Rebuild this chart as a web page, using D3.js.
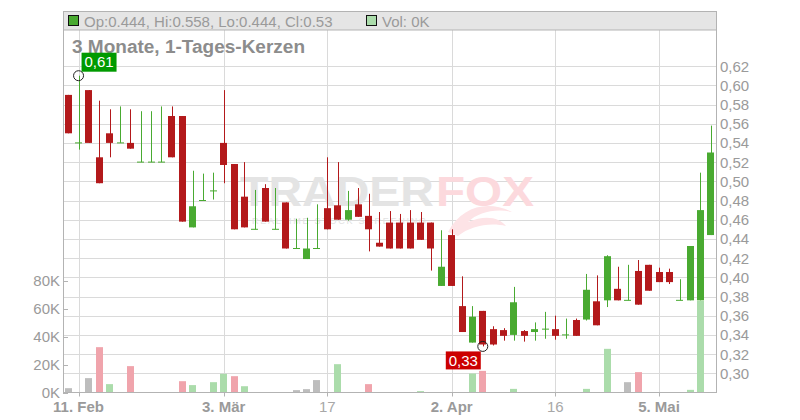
<!DOCTYPE html>
<html>
<head>
<meta charset="utf-8">
<script src="https://cdn.jsdelivr.net/npm/d3@7"></script>
<style>
html,body{margin:0;padding:0;background:#fff;}
svg{display:block;font-family:"Liberation Sans",Arial,sans-serif;}
</style>
</head>
<body>
<svg id="chart" width="800" height="420"></svg>
<script>
// ---- data (3 months, daily candles) ----
const dates = ["2025-02-10","2025-02-11","2025-02-12","2025-02-13","2025-02-14","2025-02-17","2025-02-18","2025-02-19","2025-02-20","2025-02-21",
"2025-02-24","2025-02-25","2025-02-26","2025-02-27","2025-02-28","2025-03-03","2025-03-04","2025-03-05","2025-03-06","2025-03-07",
"2025-03-10","2025-03-11","2025-03-12","2025-03-13","2025-03-14","2025-03-17","2025-03-18","2025-03-19","2025-03-20","2025-03-21",
"2025-03-24","2025-03-25","2025-03-26","2025-03-27","2025-03-28","2025-03-31","2025-04-01","2025-04-02","2025-04-03","2025-04-04",
"2025-04-07","2025-04-08","2025-04-09","2025-04-10","2025-04-11","2025-04-14","2025-04-15","2025-04-16","2025-04-17","2025-04-22",
"2025-04-23","2025-04-24","2025-04-25","2025-04-28","2025-04-29","2025-04-30","2025-05-02","2025-05-05","2025-05-06","2025-05-07",
"2025-05-08","2025-05-09","2025-05-12"];
const openV  = [0.590,0.540,0.595,0.525,0.550,0.540,0.540,0.520,0.520,0.520,
0.568,0.568,0.452,0.480,0.490,0.540,0.518,0.484,0.450,0.493,
0.450,0.478,0.430,0.419,0.430,0.472,0.475,0.460,0.476,0.464,
0.436,0.457,0.457,0.457,0.457,0.457,0.391,0.444,0.370,0.332,
0.365,0.346,0.345,0.340,0.344,0.343,0.346,0.346,0.340,0.3555,
0.356,0.375,0.376,0.388,0.376,0.4066,0.413,0.4055,0.4055,0.376,
0.376,0.376,0.444];
const highV  = [0.590,0.610,0.595,0.584,0.575,0.578,0.575,0.573,0.573,0.578,
0.578,0.568,0.511,0.508,0.509,0.595,0.518,0.520,0.491,0.497,
0.493,0.478,0.461,0.462,0.476,0.525,0.520,0.490,0.493,0.487,
0.468,0.469,0.466,0.470,0.468,0.457,0.449,0.450,0.401,0.370,
0.365,0.349,0.347,0.390,0.345,0.353,0.364,0.360,0.357,0.357,
0.4035,0.402,0.423,0.411,0.413,0.418,0.413,0.410,0.409,0.398,
0.4326,0.509,0.558];
const lowV   = [0.550,0.533,0.540,0.498,0.525,0.540,0.534,0.520,0.520,0.520,
0.525,0.458,0.452,0.480,0.481,0.498,0.450,0.452,0.450,0.458,
0.450,0.430,0.430,0.419,0.430,0.450,0.460,0.459,0.463,0.427,
0.432,0.430,0.430,0.430,0.439,0.407,0.391,0.391,0.343,0.332,
0.328,0.329,0.334,0.334,0.333,0.334,0.336,0.335,0.336,0.339,
0.355,0.350,0.369,0.376,0.376,0.3715,0.386,0.395,0.393,0.376,
0.376,0.376,0.444];
const closeV = [0.550,0.540,0.540,0.498,0.540,0.540,0.534,0.520,0.520,0.520,
0.525,0.458,0.474,0.480,0.490,0.517,0.450,0.452,0.450,0.458,
0.450,0.430,0.430,0.430,0.430,0.450,0.460,0.470,0.463,0.450,
0.432,0.430,0.430,0.430,0.439,0.430,0.411,0.391,0.343,0.359,
0.330,0.330,0.339,0.374,0.339,0.346,0.346,0.339,0.340,0.339,
0.387,0.350,0.422,0.376,0.376,0.3715,0.386,0.395,0.395,0.376,
0.4326,0.470,0.530];
const volumeV = [3100,0,10300,32500,6000,0,18900,0,0,0,
0,8100,5300,0,7400,13400,11700,4500,0,0,
0,0,1700,2400,8900,0,20300,0,0,6000,
0,0,0,0,1000,0,0,0,0,13600,
15500,0,0,2600,0,0,0,0,0,0,
2600,0,31300,0,7400,14600,0,0,0,0,
1900,65700,0];
const xTickDates  = ["2025-02-11","2025-03-03","2025-03-17","2025-04-02","2025-04-16","2025-05-05"];
const xTickLabels = ["11. Feb","3. Mär","17","2. Apr","16","5. Mai"];
const xTickBold   = [true,true,false,true,false,true];
const priceTicks  = [0.30,0.32,0.34,0.36,0.38,0.40,0.42,0.44,0.46,0.48,0.50,0.52,0.54,0.56,0.58,0.60,0.62];
const volTicks    = [0,20000,40000,60000,80000];
const titleText   = "3 Monate, 1-Tages-Kerzen";

// ---- layout ----
const L = 63, R = 716, TOP = 11, BOT = 392.5;
const C_RED = "#b3191b", C_GREEN = "#49aa31";
const V_RED = "#f0a4ac", V_GREEN = "#abdcab", V_GRAY = "#bdbdbd";
const GRID = "#dadada", AXIS = "#b3b3b3", TXT = "#9a9a9a";

const data = dates.map((d,i)=>({d, o:openV[i], h:highV[i], l:lowV[i], c:closeV[i], v:volumeV[i],
  pc: i>0 ? closeV[i-1] : null}));

const svg = d3.select("#chart");
const x = d3.scaleBand().domain(dates).range([L,R]).paddingInner(0.33).paddingOuter(0.165);
const bw = x.bandwidth();
const cx = d => x(d) + bw/2;
const y = d3.scaleLinear().domain([0.28,0.62]).range([BOT,66.1]);
const yv = d3.scaleLinear().domain([0,80000]).range([BOT,280.9]);

// gridlines
const g = svg.append("g");
g.selectAll("line.h").data(priceTicks).join("line")
  .attr("x1",L).attr("x2",R).attr("y1",d=>Math.round(y(d))+0.5).attr("y2",d=>Math.round(y(d))+0.5)
  .attr("stroke",GRID).attr("stroke-width",1);
g.selectAll("line.v").data(xTickDates).join("line")
  .attr("x1",d=>Math.round(cx(d))+0.5).attr("x2",d=>Math.round(cx(d))+0.5)
  .attr("y1",TOP).attr("y2",BOT).attr("stroke",GRID).attr("stroke-width",1);

// watermark
const wm = svg.append("g").attr("pointer-events","none");
wm.append("text").attr("x",240).attr("y",206).attr("font-size",42).attr("font-weight","bold")
  .attr("textLength",194).attr("lengthAdjust","spacingAndGlyphs").attr("fill","#e4e4e4").text("TRADER");
wm.append("text").attr("x",436).attr("y",206).attr("font-size",42).attr("font-weight","bold")
  .attr("textLength",98).attr("lengthAdjust","spacingAndGlyphs").attr("fill","#fcd9dd").text("FOX");
wm.append("path").attr("d","M448,232 C462,206 488,200 512,212 C496,208 478,212 468,222 C486,214 500,218 506,226 C490,222 470,226 458,236 Z")
  .attr("fill","#fde3e6");
wm.append("text").attr("x",252).attr("y",224).attr("font-size",9).attr("letter-spacing",4)
  .attr("textLength",178).attr("fill","#e2e2e2").text("REALTIME STOCK SCREENING");

// volume bars
const volColor = d => d.pc===null ? V_GRAY : (d.c>d.pc ? V_GREEN : (d.c<d.pc ? V_RED : V_GRAY));
svg.append("g").selectAll("rect").data(data.filter(d=>d.v>0)).join("rect")
  .attr("x",d=>Math.round(x(d.d))).attr("width",Math.round(bw))
  .attr("y",d=>yv(d.v)).attr("height",d=>BOT-yv(d.v)).attr("fill",volColor);

// candles
const cg = svg.append("g");
const col = d => d.c>=d.o ? C_GREEN : C_RED;
cg.selectAll("line.w").data(data).join("line")
  .attr("x1",d=>Math.round(cx(d.d))+0.5).attr("x2",d=>Math.round(cx(d.d))+0.5)
  .attr("y1",d=>y(d.h)).attr("y2",d=>y(d.l)).attr("stroke",col).attr("stroke-width",1);
cg.selectAll("rect").data(data).join("rect")
  .attr("x",d=>Math.round(x(d.d))).attr("width",Math.round(bw))
  .attr("y",d=>Math.min(y(d.o),y(d.c)) - (Math.abs(y(d.o)-y(d.c))<1 ? 0.5 : 0))
  .attr("height",d=>Math.max(1,Math.abs(y(d.o)-y(d.c))))
  .attr("fill",col);

// axes frame
const ax = svg.append("g").attr("stroke",AXIS).attr("stroke-width",1);
ax.append("line").attr("x1",L+0.5).attr("x2",L+0.5).attr("y1",TOP).attr("y2",BOT);
ax.append("line").attr("x1",R+0.5).attr("x2",R+0.5).attr("y1",TOP).attr("y2",BOT);
ax.append("line").attr("x1",L).attr("x2",R+1).attr("y1",BOT).attr("y2",BOT);
ax.selectAll("line.xt").data(xTickDates).join("line")
  .attr("x1",d=>Math.round(cx(d))+0.5).attr("x2",d=>Math.round(cx(d))+0.5).attr("y1",BOT).attr("y2",BOT+4);
ax.selectAll("line.vt").data(volTicks).join("line")
  .attr("x1",L).attr("x2",L+5).attr("y1",d=>Math.round(yv(d))+0.5).attr("y2",d=>Math.round(yv(d))+0.5);

// header band
const hb = svg.append("g");
hb.append("rect").attr("x",L+0.5).attr("y",TOP+0.5).attr("width",R-L).attr("height",18.5)
  .attr("fill","#e5e5e5").attr("stroke",AXIS).attr("stroke-width",1);
hb.append("rect").attr("x",68.5).attr("y",15.5).attr("width",10).attr("height",10)
  .attr("fill",C_GREEN).attr("stroke","#111").attr("stroke-width",1);
const last = data[data.length-1];
hb.append("text").attr("x",84).attr("y",26.5).attr("font-size",15).attr("fill",TXT)
  .text(`Op:${last.o}, Hi:${last.h}, Lo:${last.l}, Cl:${last.c}`);
hb.append("rect").attr("x",366.5).attr("y",15.5).attr("width",10).attr("height",10)
  .attr("fill",V_GREEN).attr("stroke","#111").attr("stroke-width",1);
hb.append("text").attr("x",382).attr("y",26.5).attr("font-size",15).attr("fill",TXT)
  .text(`Vol: ${Math.round(last.v/1000)}K`);

// title
svg.append("text").attr("x",72).attr("y",53).attr("font-size",18).attr("font-weight","bold")
  .attr("textLength",233).attr("lengthAdjust","spacingAndGlyphs")
  .attr("fill","#8c8c8c").text(titleText);

// right price axis labels
svg.append("g").selectAll("text").data(priceTicks).join("text")
  .attr("x",720).attr("y",d=>y(d)).attr("dy","0.36em").attr("font-size",15).attr("fill",TXT)
  .text(d=>d3.format(".2f")(d).replace(".",","));

// left volume axis labels
svg.append("g").selectAll("text").data(volTicks).join("text")
  .attr("x",60).attr("y",d=>yv(d)).attr("dy","0.36em").attr("text-anchor","end")
  .attr("font-size",15).attr("fill",TXT).text(d=>(d/1000)+"K");

// x axis labels
svg.append("g").selectAll("text").data(xTickDates).join("text")
  .attr("x",d=>cx(d)).attr("y",412).attr("text-anchor","middle").attr("font-size",15)
  .attr("font-weight",(d,i)=>xTickBold[i]?"bold":"normal").attr("fill",(d,i)=>xTickBold[i]?"#9a9a9a":"#a8a8a8")
  .text((d,i)=>xTickLabels[i]);

// max / min markers
const hiD = data.reduce((a,b)=>b.h>a.h?b:a);
const loD = data.reduce((a,b)=>b.l<a.l?b:a);
const fmt = v => d3.format(".2f")(v).replace(".",",");
const mk = svg.append("g");
{
  const px = cx(hiD.d), py = y(hiD.h);
  mk.append("circle").attr("cx",px).attr("cy",py).attr("r",5).attr("fill","none").attr("stroke","#222").attr("stroke-width",1);
  mk.append("rect").attr("x",px+3).attr("y",py-23).attr("width",35).attr("height",19).attr("fill","#009a00");
  mk.append("text").attr("x",px+20.5).attr("y",py-8.5).attr("text-anchor","middle").attr("font-size",15).attr("fill","#fff").text(fmt(hiD.h));
}
{
  const px = cx(loD.d), py = y(loD.l);
  mk.append("circle").attr("cx",px).attr("cy",py).attr("r",5).attr("fill","none").attr("stroke","#222").attr("stroke-width",1);
  mk.append("rect").attr("x",px-37).attr("y",py+5).attr("width",35).attr("height",18).attr("fill","#cc0000");
  mk.append("text").attr("x",px-19.5).attr("y",py+19.5).attr("text-anchor","middle").attr("font-size",15).attr("fill","#fff").text(fmt(loD.l));
}
</script>
</body>
</html>
